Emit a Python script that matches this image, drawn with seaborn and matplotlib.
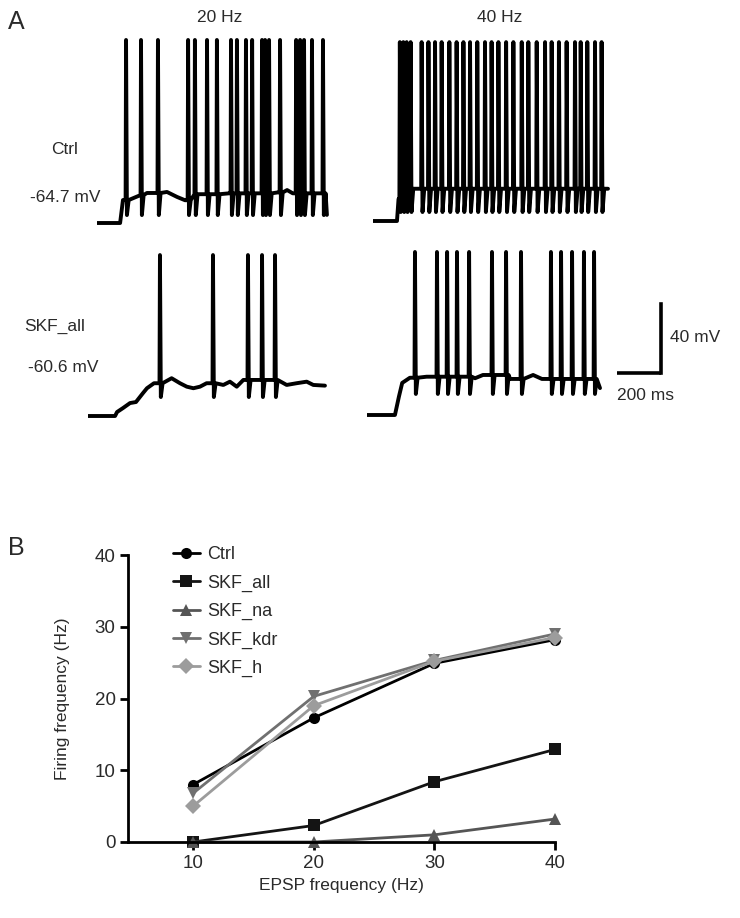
import numpy as np
import pandas as pd
import matplotlib
matplotlib.use("Agg")
import matplotlib.pyplot as plt
import seaborn as sns

sns.set_theme(style="white")
plt.rcParams['font.family'] = ['Liberation Sans', 'DejaVu Sans']

# ---------------- Panel B data ----------------
epsp_freq = [10, 20, 30, 40]
ctrl = [8.0, 17.3, 24.9, 28.2]
skf_all = [0.0, 2.3, 8.4, 12.9]
skf_na = [0.0, 0.0, 1.0, 3.2]
skf_kdr = [6.8, 20.3, 25.3, 29.0]
skf_h = [5.0, 19.0, 25.2, 28.5]
conditions = ["Ctrl", "SKF_all", "SKF_na", "SKF_kdr", "SKF_h"]
cond_colors = ["#000000", "#141414", "#555555", "#707070", "#9c9c9c"]
cond_markers = ["o", "s", "^", "v", "D"]

# ---------------- Panel A data (ms, mV) ----------------
ctrl20_rest = -64.7
ctrl20_sub = [(0, -64.7), (105, -64.7), (118, -51.4), (141, -48.5), (227, -47.3),
              (318, -46.7), (364, -49.6), (400, -51.5), (425, -48.0), (600, -47.5),
              (820, -47.0), (864, -45.6), (890, -47.5), (1030, -48.0), (1045, -60.0)]
ctrl20_spikes = [132, 200, 277, 414, 445, 500, 545, 609, 636, 677, 705, 750, 764,
                 782, 832, 905, 923, 941, 977, 1027]
ctrl20_peak, ctrl20_trough = 41.4, -60.1

ctrl40_sub = [(0, -64.7), (109, -64.7), (116, -52.0), (125, -46.0), (1068, -46.0)]
ctrl40_spikes = [122, 138, 153, 171, 221, 252, 282, 312, 347, 380, 411, 441, 474,
                 509, 539, 570, 605, 638, 676, 706, 744, 782, 812, 845, 880, 918,
                 944, 974, 1009, 1039]
ctrl40_peak, ctrl40_trough = 39.0, -59.5

skf20_rest = -60.6
skf20_sub = [(0, -60.6), (123, -60.6), (132, -58.3), (159, -56.0), (191, -53.1),
             (218, -52.5), (250, -47.3), (268, -44.5), (300, -41.6), (380, -38.7),
             (418, -41.6), (449, -43.6), (479, -44.5), (509, -43.6), (539, -41.6),
             (615, -42.6), (645, -40.7), (676, -43.6), (706, -39.7), (903, -42.6),
             (948, -41.6), (994, -40.7), (1024, -42.6), (1077, -43.0)]
skf20_spikes = [327, 568, 727, 791, 850]
skf20_peak, skf20_trough = 32.7, -49.6

skf40_sub = [(0, -60.6), (127, -60.6), (145, -50.0), (160, -42.0), (195, -39.0),
             (271, -38.4), (491, -39.3), (527, -37.4), (650, -39.7), (755, -37.4),
             (795, -39.7), (1059, -45.0)]
skf40_spikes = [218, 318, 364, 409, 464, 568, 632, 700, 836, 882, 932, 986, 1032]
skf40_peak, skf40_trough = 33.9, -48.4


def build_trace(sub, spikes, peak, trough):
    sub = sorted(sub)
    ts = np.array([p[0] for p in sub], float)
    vs = np.array([p[1] for p in sub], float)
    pts = []
    spikes = sorted(spikes)
    si = 0
    for t, v in sub:
        while si < len(spikes) and spikes[si] <= t:
            s = spikes[si]
            vp = vs[ts <= s][-1]
            pts += [(s - 2, vp), (s, peak), (s + 4, trough), (s + 12, vp)]
            si += 1
        if all(not (s - 2 <= t <= s + 12) for s in spikes):
            pts.append((t, v))
    pts.sort(key=lambda p: p[0])
    return pd.DataFrame(pts, columns=["t", "v"])


W, H = 740, 918
fig = plt.figure(figsize=(W / 100, H / 100), dpi=100)

MS_PER_PX = 4.545
MV_PER_PX = 1 / 1.725
XSPAN = (0, 1150)
YSPAN = (-75, 50)


def trace_axes(left_px, rest_px, rest_mv):
    width_px = (XSPAN[1] - XSPAN[0]) / MS_PER_PX
    height_px = (YSPAN[1] - YSPAN[0]) / MV_PER_PX
    bottom_px = rest_px + (rest_mv - YSPAN[0]) / MV_PER_PX
    ax = fig.add_axes([left_px / W, 1 - bottom_px / H, width_px / W, height_px / H])
    ax.set_xlim(*XSPAN)
    ax.set_ylim(*YSPAN)
    ax.axis("off")
    return ax


traces = [
    (97, 223, ctrl20_rest, ctrl20_sub, ctrl20_spikes, ctrl20_peak, ctrl20_trough),
    (373, 221, ctrl20_rest, ctrl40_sub, ctrl40_spikes, ctrl40_peak, ctrl40_trough),
    (88, 416, skf20_rest, skf20_sub, skf20_spikes, skf20_peak, skf20_trough),
    (367, 415, skf20_rest, skf40_sub, skf40_spikes, skf40_peak, skf40_trough),
]
axes_a = []
for left, restpx, restmv, sub, spk, pk, tr in traces:
    ax = trace_axes(left, restpx, restmv)
    df = build_trace(sub, spk, pk, tr)
    sns.lineplot(data=df, x="t", y="v", ax=ax, sort=False, estimator=None,
                 color="black", linewidth=2.8)
    ax.axis("off")
    axes_a.append(ax)

# scale bar in last trace axes
sb = axes_a[3]
sb.plot([1136, 1336], [-36.3, -36.3], color="black", lw=2.6, clip_on=False,
        solid_capstyle="butt")
sb.plot([1336, 1336], [-36.3, 3.7], color="black", lw=2.6, clip_on=False,
        solid_capstyle="projecting")

TXT = "#2a2a2a"


def ftext(x, y, s, **kw):
    fig.text(x / W, 1 - y / H, s, **kw)


ftext(8, 22, "A", fontsize=18, ha="left", va="center", color=TXT)
ftext(220, 18, "20 Hz", fontsize=12.5, ha="center", va="center", color=TXT)
ftext(500, 18, "40 Hz", fontsize=12.5, ha="center", va="center", color=TXT)
ftext(65, 150, "Ctrl", fontsize=12.5, ha="center", va="center", color=TXT)
ftext(65, 198, "-64.7 mV", fontsize=12.5, ha="center", va="center", color=TXT)
ftext(55, 326, "SKF_all", fontsize=12.5, ha="center", va="center", color=TXT)
ftext(63, 368, "-60.6 mV", fontsize=12.5, ha="center", va="center", color=TXT)
ftext(670, 338, "40 mV", fontsize=12.5, ha="left", va="center", color=TXT)
ftext(617, 395, "200 ms", fontsize=12.5, ha="left", va="center", color=TXT)
ftext(8, 548, "B", fontsize=18, ha="left", va="center", color=TXT)

# ---------------- Panel B ----------------
rows = []
for name, vals in zip(conditions, [ctrl, skf_all, skf_na, skf_kdr, skf_h]):
    for f, v in zip(epsp_freq, vals):
        rows.append({"EPSP": f, "rate": v, "cond": name})
dfb = pd.DataFrame(rows)

axb = fig.add_axes([128 / W, 1 - 842 / H, (555 - 128) / W, (842 - 555) / H])
sns.lineplot(data=dfb, x="EPSP", y="rate", hue="cond", style="cond",
             hue_order=conditions, style_order=conditions,
             palette=dict(zip(conditions, cond_colors)),
             markers=dict(zip(conditions, cond_markers)), dashes=False,
             linewidth=2.0, markersize=8, markeredgewidth=0, ax=axb,
             clip_on=False)
axb.set_xlim(4.6, 40)
axb.set_ylim(0, 40)
axb.set_xticks(epsp_freq)
axb.set_yticks([0, 10, 20, 30, 40])
sns.despine(ax=axb)
for sp in ["left", "bottom"]:
    axb.spines[sp].set_linewidth(2.0)
    axb.spines[sp].set_color("black")
axb.tick_params(axis="both", which="both", direction="out", length=6, width=2.0,
                color="black", labelsize=13.5, labelcolor=TXT, pad=3,
                left=True, bottom=True)
axb.set_xlabel("EPSP frequency (Hz)", fontsize=12.5, color=TXT, labelpad=5)
axb.set_ylabel("Firing frequency (Hz)", fontsize=12.5, color=TXT, labelpad=18)

leg = axb.legend(loc="upper left", bbox_to_anchor=(0.105, 1.03), frameon=False,
                 fontsize=13, handlelength=1.5, handletextpad=0.4,
                 labelspacing=0.62, borderaxespad=0, borderpad=0)
for t in leg.get_texts():
    t.set_color(TXT)

fig.savefig("out.png", dpi=100)
